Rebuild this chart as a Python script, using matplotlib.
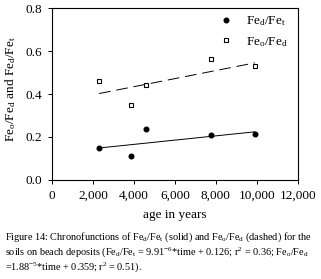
import matplotlib
matplotlib.use('Agg')
import matplotlib.pyplot as plt
import numpy as np

plt.rcParams['font.family'] = ['Liberation Serif', 'DejaVu Serif']
plt.rcParams['mathtext.fontset'] = 'custom'
plt.rcParams['mathtext.rm'] = 'Liberation Serif'
plt.rcParams['mathtext.it'] = 'Liberation Serif'

# age in years
age = [2300, 3850, 4600, 7750, 9900]
fed_fet = [0.15, 0.11, 0.235, 0.21, 0.215]
feo_fed = [0.46, 0.35, 0.44, 0.565, 0.53]

# regression lines from caption
slope_t, icpt_t = 9.91e-6, 0.126
slope_d, icpt_d = 1.88e-5, 0.359

fig = plt.figure(figsize=(3.21, 2.79), dpi=100)
ax = fig.add_axes([0.162, 0.355, 0.766, 0.616])

ax.plot(age, fed_fet, 'o', color='black', ms=3.3, label='Fe$_d$/Fe$_t$', zorder=3)
ax.plot(age, feo_fed, 's', mfc='white', mec='black', mew=0.8, ms=3.3,
        label='Fe$_o$/Fe$_d$', zorder=3)

xl = np.array([min(age), max(age)])
ax.plot(xl, slope_t * xl + icpt_t, '-', color='black', lw=0.7)
ax.plot(xl, slope_d * xl + icpt_d, '--', color='black', lw=0.7, dashes=(12, 6))

ax.set_xlim(0, 12000)
ax.set_ylim(0, 0.8)
ax.set_xticks(np.arange(0, 12001, 2000))
ax.set_xticklabels(['0', '2,000', '4,000', '6,000', '8,000', '10,000', '12,000'])
ax.set_yticks([0, 0.2, 0.4, 0.6, 0.8])
ax.set_yticklabels(['0.0', '0.2', '0.4', '0.6', '0.8'])
ax.tick_params(direction='out', length=3, width=0.7, labelsize=9.5, pad=4)
for s in ax.spines.values():
    s.set_linewidth(0.8)

ax.set_xlabel('age in years', fontsize=9.5, labelpad=5)
ax.set_ylabel('Fe$_o$/Fe$_d$ and Fe$_d$/Fe$_t$', fontsize=9.5, labelpad=2)
ax.yaxis.set_label_coords(-0.14, 0.53)

ax.legend(loc='upper right', frameon=False, fontsize=9.5, handletextpad=0.9,
          labelspacing=0.5, borderaxespad=0.1, handlelength=1.2,
          bbox_to_anchor=(0.985, 1.0))

cap = ('Figure 14: Chronofunctions of Fe$_d$/Fe$_t$ (solid) and Fe$_o$/Fe$_d$ (dashed) for the\n'
       'soils on beach deposits (Fe$_d$/Fe$_t$ = 9.91$^{-6}$*time + 0.126; r$^2$ = 0.36; Fe$_o$/Fe$_d$\n'
       '=1.88$^{-5}$*time + 0.359; r$^2$ = 0.51).')
fig.text(0.015, 0.175, cap, fontsize=7.4, va='top', ha='left', linespacing=1.12)

fig.savefig('out.png', dpi=100)
